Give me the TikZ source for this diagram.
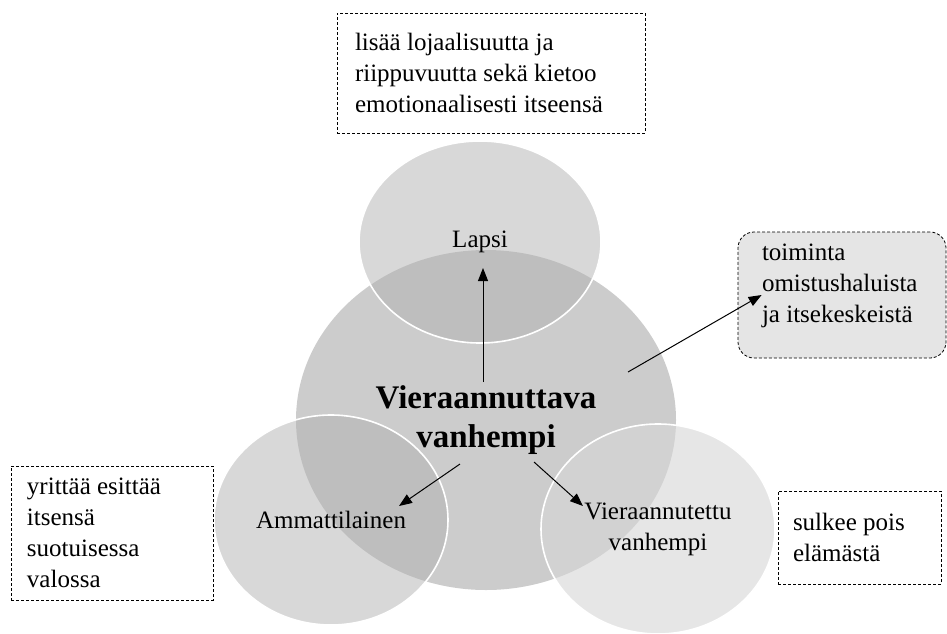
\documentclass[tikz,border=0pt]{standalone}
\usepackage{fontspec}
\setmainfont{Liberation Serif}
\usetikzlibrary{shapes.geometric,arrows.meta,calc,positioning}
\tikzset{
    big-circle/.style = {ellipse, fill=black!20, minimum width=380pt, minimum height=340pt, inner sep=0pt},
    small-circle/.style = {ellipse, draw=white, line width=1.6pt, fill=black!30, fill opacity=0.5, text opacity=1, minimum width=236pt, minimum height=210pt, inner sep=0pt},
    light-circle/.style = {small-circle, fill=black!16, fill opacity=0.6},
    dashed-box/.style = {draw=black, line width=0.8pt, dash pattern=on 3pt off 2pt, fill=white, rectangle, inner sep=0pt},
    grey-box/.style = {dashed-box, fill=black!10, rounded corners=16pt},
    arrow-line/.style = {-{Triangle[length=13pt,width=10pt]}, line width=1pt},
    main-text/.style = {font=\fontsize{25}{31}\selectfont, align=center},
    title-text/.style = {font=\fontsize{33}{39}\selectfont\bfseries, align=center},
}

\begin{document}
\begin{tikzpicture}[x=1pt,y=-1pt]
\useasboundingbox (0,0) rectangle (947,633);

% ympyrat
\node[big-circle, title-text] (vieraannuttava) at (486,420) {Vieraannuttava\\vanhempi};
\node[small-circle, main-text, minimum width=242pt, minimum height=202pt] (lapsi) at (480,242) {Lapsi};
\node[small-circle, main-text, minimum width=234pt, minimum height=210pt] (ammattilainen) at (331,520) {Ammattilainen};
\node[light-circle, main-text, minimum width=234pt, minimum height=210pt] (vieraannutettu) at (658,529) {Vieraannutettu\\vanhempi};

% laatikot
\node[dashed-box, main-text, minimum width=308pt, minimum height=120pt] (lojaalisuus) at (491,73) {\begin{minipage}{272pt}\raggedright
    lis\"a\"a lojaalisuutta ja\\
    riippuvuutta sek\"a kietoo\\
    emotionaalisesti itseens\"a
\end{minipage}};
\node[grey-box, main-text, minimum width=208pt, minimum height=126pt] (omistus) at (842,295) {\begin{minipage}[c][126pt][t]{160pt}\raggedright
    \vspace*{12pt}
    toiminta\\
    omistushaluista\\
    ja itsekeskeist\"a
\end{minipage}};
\node[dashed-box, main-text, minimum width=202pt, minimum height=134pt] (esittaa) at (112,533) {\begin{minipage}{170pt}\raggedright
    yritt\"a\"a esitt\"a\"a\\
    itsens\"a\\
    suotuisessa\\
    valossa
\end{minipage}};
\node[dashed-box, main-text, minimum width=163pt, minimum height=93pt] (sulkee) at (859.5,537.5) {\begin{minipage}{133pt}\raggedright
    sulkee pois\\
    el\"am\"ast\"a
\end{minipage}};

% nuolet
\draw[arrow-line] ($(vieraannuttava)+(-3,-38)$) -- ($(lapsi)+(3,26)$);
\draw[arrow-line] ($(vieraannuttava)+(142,-48)$) -- ($(omistus.west)+(24,0)$);
\draw[arrow-line] ($(vieraannuttava)+(-26,44)$) -- ($(ammattilainen)+(68,-14)$);
\draw[arrow-line] ($(vieraannuttava)+(48,42)$) -- ($(vieraannutettu)+(-75,-23)$);
\end{tikzpicture}
\end{document}
